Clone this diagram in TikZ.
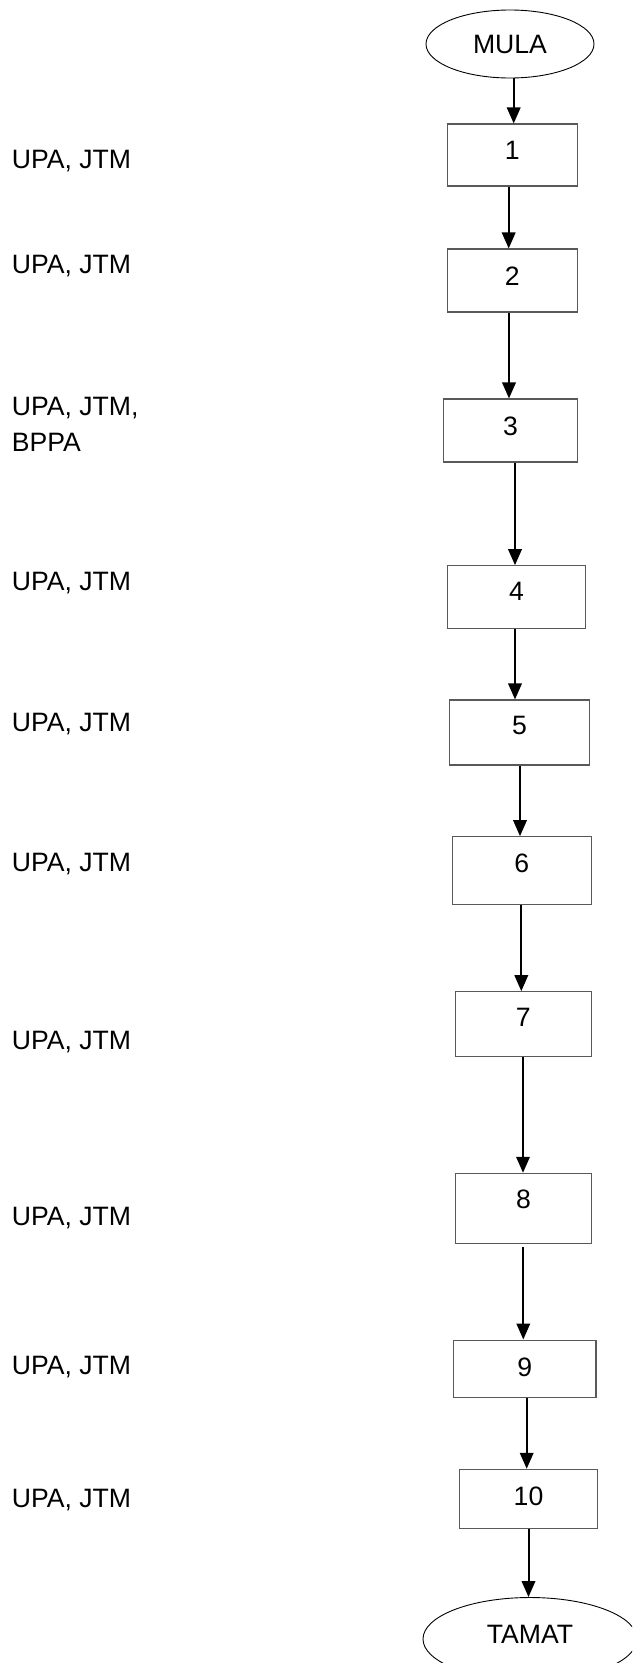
\documentclass[tikz,border=0pt]{standalone}
\usepackage{fontspec}
\setmainfont{Liberation Sans}
\usetikzlibrary{arrows.meta,shapes.geometric}
\newcommand\lift[2]{\raisebox{#1}{#2}}
\begin{document}
\begin{tikzpicture}[x=1pt,y=-1pt,
  every node/.style={font=\fontsize{26.6}{36.7}\selectfont},
  stepbox/.style={draw=black!65, line width=1.1pt, rectangle, inner sep=0pt},
  terminal/.style={draw=black, line width=0.9pt, ellipse, inner sep=0pt},
  side/.style={anchor=north west, inner sep=0pt, align=left},
  flow/.style={line width=2pt, -{Triangle[length=16pt,width=13.5pt]}}]
\useasboundingbox (0,0) rectangle (632,1663);
\clip (0,0) rectangle (632,1663);

% start and end terminals
\node[terminal, minimum width=168pt, minimum height=68pt] (mula) at (510,44) {MULA};
\node[terminal, minimum width=214pt, minimum height=83pt] (tamat) at (530,1639) {\lift{10pt}{TAMAT}};

% process steps
\node[stepbox, minimum width=130pt,   minimum height=62pt]   (b1)  at (512.3,155)    {\lift{9pt}{1}};
\node[stepbox, minimum width=130pt,   minimum height=63pt]   (b2)  at (512.3,280.5)  {\lift{7.6pt}{2}};
\node[stepbox, minimum width=134.4pt, minimum height=63pt]   (b3)  at (510.5,430.5)  {\lift{7.6pt}{3}};
\node[stepbox, minimum width=138.4pt, minimum height=63pt]   (b4)  at (516.5,597.2)  {\lift{11pt}{4}};
\node[stepbox, minimum width=140.4pt, minimum height=65pt]   (b5)  at (519.5,732.5)  {\lift{13.4pt}{5}};
\node[stepbox, minimum width=138.7pt, minimum height=68pt]   (b6)  at (521.7,870.7)  {\lift{14.8pt}{6}};
\node[stepbox, minimum width=135.7pt, minimum height=64.6pt] (b7)  at (523.2,1024)   {\lift{13pt}{7}};
\node[stepbox, minimum width=136.4pt, minimum height=70.4pt] (b8)  at (523.5,1208.5) {\lift{18pt}{8}};
\node[stepbox, minimum width=142.3pt, minimum height=57.3pt] (b9)  at (524.8,1368.7) {\lift{3.4pt}{9}};
\node[stepbox, minimum width=138.4pt, minimum height=59.4pt] (b10) at (528.5,1499)   {\lift{6pt}{10}};

% responsible parties
\node[side] (l1)  at (11.7,150)    {UPA, JTM};
\node[side] (l2)  at (11.7,255)    {UPA, JTM};
\node[side] (l3)  at (11.7,396.7)  {UPA, JTM,\\BPPA};
\node[side] (l4)  at (11.7,571.7)  {UPA, JTM};
\node[side] (l5)  at (11.7,712.7)  {UPA, JTM};
\node[side] (l6)  at (11.7,853.3)  {UPA, JTM};
\node[side] (l7)  at (11.7,1031)   {UPA, JTM};
\node[side] (l8)  at (11.7,1206.7) {UPA, JTM};
\node[side] (l9)  at (11.7,1356)   {UPA, JTM};
\node[side] (l10) at (11.7,1489)   {UPA, JTM};

% flow arrows
\draw[flow] ([xshift=3.7pt]mula.south) -- ([xshift=3.7pt]mula.south |- b1.north);
\draw[flow] ([xshift=-3.6pt]b1.south) -- ([xshift=-3.6pt]b1.south |- b2.north);
\draw[flow] ([xshift=-3.3pt]b2.south) -- ([xshift=-3.3pt]b2.south |- b3.north);
\draw[flow] ([xshift=4.5pt]b3.south) -- ([xshift=4.5pt]b3.south |- b4.north);
\draw[flow] ([xshift=-1.5pt]b4.south) -- ([xshift=-1.5pt]b4.south |- b5.north);
\draw[flow] ([xshift=0.5pt]b5.south) -- ([xshift=0.5pt]b5.south |- b6.north);
\draw[flow] ([xshift=-0.4pt]b6.south) -- ([xshift=-0.4pt]b6.south |- b7.north);
\draw[flow] ([xshift=-0.2pt]b7.south) -- ([xshift=-0.2pt]b7.south |- b8.north);
\draw[flow] ([yshift=-3pt,xshift=-0.2pt]b8.south) -- ([xshift=-0.2pt]b8.south |- b9.north);
\draw[flow] ([xshift=1.9pt]b9.south) -- ([xshift=1.9pt]b9.south |- b10.north);
\draw[flow] (b10.south) -- (b10.south |- tamat.north);
\end{tikzpicture}
\end{document}
